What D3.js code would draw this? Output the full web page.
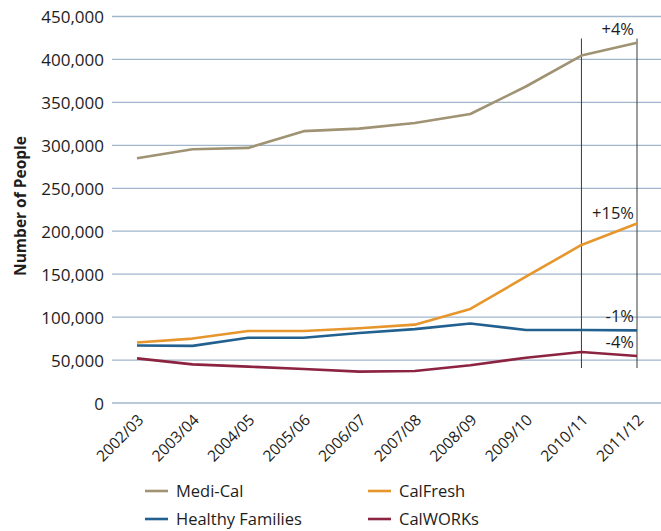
<!DOCTYPE html>
<html><head><meta charset="utf-8">
<script src="https://cdn.jsdelivr.net/npm/d3@7"></script>
<style>
body{margin:0;background:#fff;}
text{font-family:"Open Sans",sans-serif;fill:#1d1d1b;}
</style></head>
<body><svg id="c" width="661" height="531"></svg>
<script>
const years = ["2002/03","2003/04","2004/05","2005/06","2006/07","2007/08","2008/09","2009/10","2010/11","2011/12"];
const mediCal = [285000,295500,297000,316500,319500,326000,336500,368500,404500,419500];
const calFresh = [70500,75000,83800,83800,87000,91200,109500,147000,184000,209000];
const healthyFamilies = [67000,66500,76000,76000,81500,86000,92500,85000,85000,84500];
const calWorks = [52000,45000,42300,39600,36500,37300,43900,52700,59400,54700];
const yTicks = [0,50000,100000,150000,200000,250000,300000,350000,400000,450000];
const seriesNames = ["Medi-Cal","CalFresh","Healthy Families","CalWORKs"];
const seriesColors = ["#a09373","#e6962c","#22608f","#8c2340"];
const changeLabels = ["+4%","+15%","-1%","-4%"];

const svg = d3.select("#c");
const x = d3.scalePoint().domain(years).range([137,637]);
const y = d3.scaleLinear().domain([0,450000]).range([403,16.5]);

// gridlines
svg.append("g").selectAll("line").data(yTicks).join("line")
  .attr("x1",112).attr("x2",661)
  .attr("y1",d=>y(d)).attr("y2",d=>y(d))
  .attr("stroke","#9fb6cb").attr("stroke-width",1.3);

// y axis labels
const yAxis = d3.axisLeft(y).tickValues(yTicks).tickFormat(d3.format(",")).tickSize(0).tickPadding(0);
const ya = svg.append("g").attr("transform","translate(104,0)").call(yAxis);
ya.select(".domain").remove();
ya.selectAll("text").attr("font-size",17).attr("font-family","Open Sans").attr("fill","#1d1d1b").attr("dy","0.36em");

// y title
svg.append("text").attr("transform","translate(26,206) rotate(-90)")
  .attr("text-anchor","middle").attr("font-weight","bold").attr("font-size",15.5)
  .text("Number of People");

// x labels
const xAxis = d3.axisBottom(x).tickSize(0).tickPadding(0);
const xa = svg.append("g").attr("transform","translate(0,412)").call(xAxis);
xa.select(".domain").remove();
xa.selectAll("text").attr("font-size",15.5).attr("font-family","Open Sans").attr("fill","#1d1d1b")
  .attr("text-anchor","end").attr("y",0).attr("dy",0)
  .attr("transform","translate(7,9) rotate(-45)");

// vertical reference lines
["2010/11","2011/12"].forEach(yr=>{
  svg.append("line").attr("x1",x(yr)).attr("x2",x(yr))
    .attr("y1",38.5).attr("y2",368)
    .attr("stroke","#3a3a3a").attr("stroke-width",1);
});

// lines
const all = [mediCal,calFresh,healthyFamilies,calWorks];
const line = d3.line().x((d,i)=>x(years[i])).y(d=>y(d));
all.forEach((s,k)=>{
  svg.append("path").datum(s).attr("d",line).attr("fill","none")
    .attr("stroke",seriesColors[k]).attr("stroke-width",2.6).attr("stroke-linejoin","round");
});

// change labels
const labelY = [35,219,321.5,347.5];
changeLabels.forEach((t,k)=>{
  svg.append("text").attr("x",634).attr("y",labelY[k]).attr("text-anchor","end")
    .attr("font-size",16.5).text(t);
});

// legend
const legPos = [[145,491],[368,491],[145,519],[368,519]];
seriesNames.forEach((n,k)=>{
  const [lx,ly]=legPos[k];
  svg.append("line").attr("x1",lx).attr("x2",lx+23).attr("y1",ly).attr("y2",ly)
    .attr("stroke",seriesColors[k]).attr("stroke-width",2.6);
  svg.append("text").attr("x",lx+31).attr("y",ly).attr("dy","0.35em")
    .attr("font-size",16.5).text(n);
});
</script></body></html>
